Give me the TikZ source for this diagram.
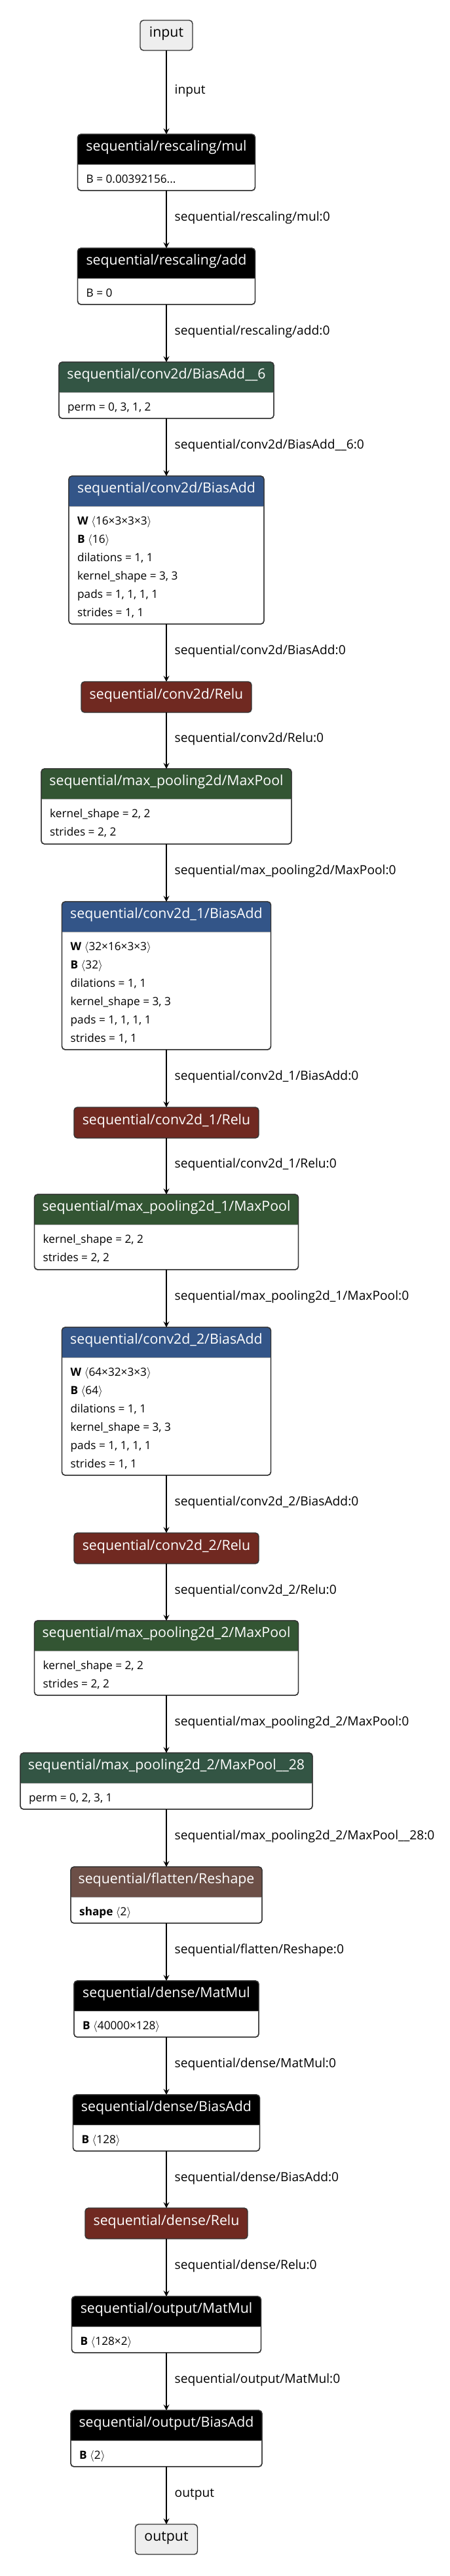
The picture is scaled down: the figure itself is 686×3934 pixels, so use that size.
\documentclass[tikz,border=0pt]{standalone}
\usepackage{fontspec}
\setmainfont{Open Sans}
\usetikzlibrary{arrows.meta}
\definecolor{cblack}{HTML}{000000}
\definecolor{clayer}{RGB}{51,85,136}
\definecolor{cact}{RGB}{112,41,33}
\definecolor{cpool}{RGB}{51,85,51}
\definecolor{ctrans}{RGB}{51,85,68}
\definecolor{cshape}{RGB}{108,79,71}
\definecolor{cframe}{HTML}{333333}
\definecolor{cio}{HTML}{EEEEEE}
\definecolor{csep}{HTML}{AAAAAA}
\tikzset{
  frame/.style={draw=cframe, line width=1.4pt, rounded corners=5pt, fill=white, inner sep=0pt, outer sep=0pt},
  ttl/.style={text=white, font=\fontsize{21.3}{25}\selectfont, text height=0.7em, text depth=0.15em, inner sep=0pt},
  attr/.style={anchor=base west, font=\fontsize{17.2}{20}\selectfont, inner sep=0pt, text=black},
  elabel/.style={anchor=west, font=\fontsize{19.2}{22}\selectfont, xshift=12pt, inner sep=0pt, text height=0.7em, text depth=0.15em, text=black},
  edge/.style={line width=1.3pt, draw=black, -{Stealth[length=9pt,width=9pt,inset=3.5pt]}},
  ionode/.style={draw=cframe, line width=1.4pt, rounded corners=5pt, fill=cio, inner sep=0pt, outer sep=0pt, font=\fontsize{21.3}{25}\selectfont, text height=0.7em, text depth=0.15em},
  actnode/.style={draw=cframe, line width=1.4pt, rounded corners=5pt, inner sep=0pt, outer sep=0pt, text=white, font=\fontsize{21.3}{25}\selectfont, text height=0.7em, text depth=0.15em},
}
% #1 name, #2 half width, #3 top, #4 total height, #5 colour, #6 title
\newcommand\opnode[6]{%
  \node[frame, minimum width={2*#2}, minimum height={#4}, anchor=north] (#1) at (254,#3) {};
  \begin{scope}
    \clip[rounded corners=5pt] (#1.north west) rectangle (#1.south east);
    \fill[#5] (#1.north west) rectangle ([yshift=-46pt]#1.north east);
  \end{scope}
  \draw[csep, line width=1pt] ([yshift=-46.5pt]#1.north west) -- ([yshift=-46.5pt]#1.north east);
  \draw[cframe, line width=1.4pt, rounded corners=5pt] (#1.north west) rectangle (#1.south east);
  \node[ttl] (#1-t) at ([yshift=-23pt]#1.north) {#6};
}
\newcommand\attrline[3]{\node[attr] (#1-a#2) at ([xshift=13pt,yshift={-(74+28*(#2-1))}]#1.north west) {#3};}
\newcommand\shp[1]{\(\langle\)#1\(\rangle\)}
\begin{document}
\begin{tikzpicture}[x=1pt,y=-1pt]
\useasboundingbox (0,0) rectangle (686,3934);
\fill[white] (0,0) rectangle (686,3934);

\node[ionode, minimum width=80, minimum height=46] (in) at (254,54) {input};

\opnode{mul}{135.5}{205}{86}{cblack}{sequential/rescaling/mul}
\attrline{mul}{1}{B = 0.00392156...}

\opnode{add}{135.5}{379}{86}{cblack}{sequential/rescaling/add}
\attrline{add}{1}{B = 0}

\opnode{trA}{164}{553}{86}{ctrans}{sequential/conv2d/BiasAdd\_\_6}
\attrline{trA}{1}{perm = 0, 3, 1, 2}

\opnode{conv}{149}{727}{226}{clayer}{sequential/conv2d/BiasAdd}
\attrline{conv}{1}{\textbf{W}~\shp{16×3×3×3}}
\attrline{conv}{2}{\textbf{B}~\shp{16}}
\attrline{conv}{3}{dilations = 1, 1}
\attrline{conv}{4}{kernel\_shape = 3, 3}
\attrline{conv}{5}{pads = 1, 1, 1, 1}
\attrline{conv}{6}{strides = 1, 1}

\node[actnode, fill=cact, minimum width=260, minimum height=47, anchor=north] (relu) at (254,1041) {sequential/conv2d/Relu};

\opnode{pool}{191}{1174}{115}{cpool}{sequential/max\_pooling2d/MaxPool}
\attrline{pool}{1}{kernel\_shape = 2, 2}
\attrline{pool}{2}{strides = 2, 2}

\opnode{convA}{159.5}{1377}{226}{clayer}{sequential/conv2d\_1/BiasAdd}
\attrline{convA}{1}{\textbf{W}~\shp{32×16×3×3}}
\attrline{convA}{2}{\textbf{B}~\shp{32}}
\attrline{convA}{3}{dilations = 1, 1}
\attrline{convA}{4}{kernel\_shape = 3, 3}
\attrline{convA}{5}{pads = 1, 1, 1, 1}
\attrline{convA}{6}{strides = 1, 1}

\node[actnode, fill=cact, minimum width=282, minimum height=47, anchor=north] (reluA) at (254,1691) {sequential/conv2d\_1/Relu};

\opnode{poolA}{201.5}{1824}{115}{cpool}{sequential/max\_pooling2d\_1/MaxPool}
\attrline{poolA}{1}{kernel\_shape = 2, 2}
\attrline{poolA}{2}{strides = 2, 2}

\opnode{convB}{159.5}{2027}{226}{clayer}{sequential/conv2d\_2/BiasAdd}
\attrline{convB}{1}{\textbf{W}~\shp{64×32×3×3}}
\attrline{convB}{2}{\textbf{B}~\shp{64}}
\attrline{convB}{3}{dilations = 1, 1}
\attrline{convB}{4}{kernel\_shape = 3, 3}
\attrline{convB}{5}{pads = 1, 1, 1, 1}
\attrline{convB}{6}{strides = 1, 1}

\node[actnode, fill=cact, minimum width=282, minimum height=47, anchor=north] (reluB) at (254,2341) {sequential/conv2d\_2/Relu};

\opnode{poolB}{201.5}{2475}{114}{cpool}{sequential/max\_pooling2d\_2/MaxPool}
\attrline{poolB}{1}{kernel\_shape = 2, 2}
\attrline{poolB}{2}{strides = 2, 2}

\opnode{trB}{223}{2677}{86}{ctrans}{sequential/max\_pooling2d\_2/MaxPool\_\_28}
\attrline{trB}{1}{perm = 0, 2, 3, 1}

\opnode{resh}{146}{2851}{86}{cshape}{sequential/flatten/Reshape}
\attrline{resh}{1}{\textbf{shape}~\shp{2}}

\opnode{mm}{141}{3025}{86}{cblack}{sequential/dense/MatMul}
\attrline{mm}{1}{\textbf{B}~\shp{40000×128}}

\opnode{ba}{142.5}{3199}{86}{cblack}{sequential/dense/BiasAdd}
\attrline{ba}{1}{\textbf{B}~\shp{128}}

\node[actnode, fill=cact, minimum width=248, minimum height=47, anchor=north] (reluC) at (254,3372) {sequential/dense/Relu};

\opnode{omm}{144.5}{3507}{86}{cblack}{sequential/output/MatMul}
\attrline{omm}{1}{\textbf{B}~\shp{128×2}}

\opnode{oba}{146}{3681}{86}{cblack}{sequential/output/BiasAdd}
\attrline{oba}{1}{\textbf{B}~\shp{2}}

\node[ionode, minimum width=95, minimum height=46] (out) at (254,3878) {output};

\draw[edge] (in) -- node[elabel]{input} (mul);
\draw[edge] (mul) -- node[elabel]{sequential/rescaling/mul:0} (add);
\draw[edge] (add) -- node[elabel]{sequential/rescaling/add:0} (trA);
\draw[edge] (trA) -- node[elabel]{sequential/conv2d/BiasAdd\_\_6:0} (conv);
\draw[edge] (conv) -- node[elabel]{sequential/conv2d/BiasAdd:0} (relu);
\draw[edge] (relu) -- node[elabel]{sequential/conv2d/Relu:0} (pool);
\draw[edge] (pool) -- node[elabel]{sequential/max\_pooling2d/MaxPool:0} (convA);
\draw[edge] (convA) -- node[elabel]{sequential/conv2d\_1/BiasAdd:0} (reluA);
\draw[edge] (reluA) -- node[elabel]{sequential/conv2d\_1/Relu:0} (poolA);
\draw[edge] (poolA) -- node[elabel]{sequential/max\_pooling2d\_1/MaxPool:0} (convB);
\draw[edge] (convB) -- node[elabel]{sequential/conv2d\_2/BiasAdd:0} (reluB);
\draw[edge] (reluB) -- node[elabel]{sequential/conv2d\_2/Relu:0} (poolB);
\draw[edge] (poolB) -- node[elabel]{sequential/max\_pooling2d\_2/MaxPool:0} (trB);
\draw[edge] (trB) -- node[elabel]{sequential/max\_pooling2d\_2/MaxPool\_\_28:0} (resh);
\draw[edge] (resh) -- node[elabel]{sequential/flatten/Reshape:0} (mm);
\draw[edge] (mm) -- node[elabel]{sequential/dense/MatMul:0} (ba);
\draw[edge] (ba) -- node[elabel]{sequential/dense/BiasAdd:0} (reluC);
\draw[edge] (reluC) -- node[elabel]{sequential/dense/Relu:0} (omm);
\draw[edge] (omm) -- node[elabel]{sequential/output/MatMul:0} (oba);
\draw[edge] (oba) -- node[elabel]{output} (out);
\end{tikzpicture}
\end{document}
